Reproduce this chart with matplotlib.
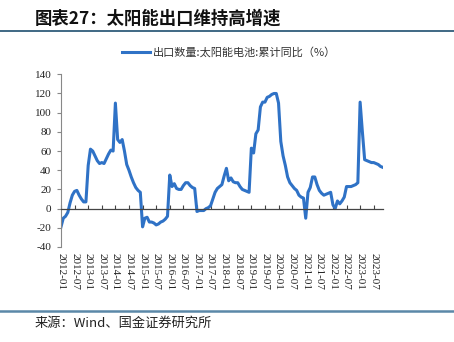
import matplotlib
matplotlib.use("Agg")
import matplotlib.pyplot as plt
import matplotlib.transforms as mtransforms
from matplotlib.lines import Line2D

# Solar cell export volume, cumulative YoY (%), monthly from 2012-01
months_start = "2012-01"
yoy = [
    -19, -10, -8, -4, 6, 14, 18, 19, 14, 10, 7, 7,          # 2012
    45, 62, 60, 55, 50, 47, 48, 47, 52, 57, 61, 60,          # 2013
    110, 72, 69, 72, 60, 46, 40, 33, 27, 22, 19, 17,         # 2014
    -19, -10, -9, -14, -14, -15, -17, -16, -14, -13, -11, -8,  # 2015
    35, 23, 26, 21, 20, 20, 24, 27, 27, 24, 22, 21,          # 2016
    -3, -2, -2, -2, 0, 1, 3, 10, 17, 21, 23, 25,             # 2017
    34, 42, 29, 32, 28, 27, 27, 23, 20, 19, 18, 17,          # 2018
    63, 58, 78, 82, 106, 111, 111, 116, 117, 119, 120, 120,  # 2019
    110, 70, 55, 45, 33, 27, 24, 21, 19, 14, 12, 11,         # 2020
    -10, 17, 22, 33, 33, 25, 19, 16, 14, 15, 16, 17,         # 2021
    4, 0, 8, 5, 8, 12, 23, 23, 23, 24, 25, 27,               # 2022
    111, 80, 51, 50, 49, 48, 48, 47, 46, 44, 43,             # 2023
]
tick_labels = [f"{y}-{m:02d}" for y in range(2012, 2024) for m in (1, 7)]
y_ticks = list(range(-40, 141, 20))
series_name = "出口数量:太阳能电池:累计同比（%）"
title_text = "图表27：太阳能出口维持高增速"
source_text = "来源：Wind、国金证券研究所"

W, H = 454, 342
fig = plt.figure(figsize=(W / 100, H / 100), dpi=100)
fig.patch.set_facecolor("white")

ax = fig.add_axes([61 / W, 1 - 247 / H, (383 - 61) / W, (247 - 74.3) / H])
x = list(range(len(yoy)))
line_color = "#2f72c6"
ax.plot(x, yoy, color=line_color, lw=2.2, solid_joinstyle="round")

ax.set_xlim(0, len(yoy) - 0.9)
ax.set_ylim(-40, 140)
ax.set_yticks(y_ticks)
ax.set_yticklabels([str(v) for v in y_ticks], fontfamily="Liberation Serif",
                   fontsize=8, color="#222222")

tick_pos = list(range(0, len(yoy), 6))[:len(tick_labels)]
ax.set_xticks(tick_pos)
ax.tick_params(axis="x", direction="in", length=3, width=0.8, color="#444444",
               labelbottom=False)
ax.tick_params(axis="y", direction="out", length=3, width=0.8, color="#888888",
               pad=4)

for side in ("top", "right"):
    ax.spines[side].set_visible(False)
ax.spines["left"].set_color("#888888")
ax.spines["left"].set_linewidth(0.8)
ax.spines["bottom"].set_position(("data", 0))
ax.spines["bottom"].set_color("#444444")
ax.spines["bottom"].set_linewidth(0.9)

# date labels under the plot area, read top to bottom
trans = mtransforms.blended_transform_factory(ax.transData, ax.transAxes)
for p, lab in zip(tick_pos, tick_labels):
    ax.text(p, -0.035, lab, transform=trans, rotation=-90, ha="center", va="top",
            fontsize=8, fontfamily="Liberation Serif", color="#222222")

# legend
fig.add_artist(Line2D([122 / W, 150 / W], [1 - 52 / H, 1 - 52 / H],
                      color=line_color, lw=2.2, transform=fig.transFigure))
fig.text(153 / W, 1 - 52 / H, series_name, fontsize=8, va="center", ha="left",
         color="#333333", fontfamily=["Noto Sans CJK SC", "DejaVu Sans"])

# title and rules
fig.text(35 / W, 1 - 19 / H, title_text, fontsize=12.5, fontweight="bold",
         fontstyle="italic", va="center", ha="left", color="#111111",
         fontfamily=["Noto Sans CJK SC", "DejaVu Sans"])
fig.add_artist(Line2D([0, 1], [1 - 30.5 / H, 1 - 30.5 / H], color="#1f4f70",
                      lw=1.2, transform=fig.transFigure))
fig.add_artist(Line2D([0, 1], [1 - 310.5 / H, 1 - 310.5 / H], color="#5b88a8",
                      lw=1.8, transform=fig.transFigure))
fig.text(35 / W, 1 - 323 / H, source_text, fontsize=9.5, va="center", ha="left",
         color="#222222", fontfamily=["Noto Sans CJK SC", "DejaVu Sans"])

fig.savefig("out.png", dpi=100, facecolor="white")
